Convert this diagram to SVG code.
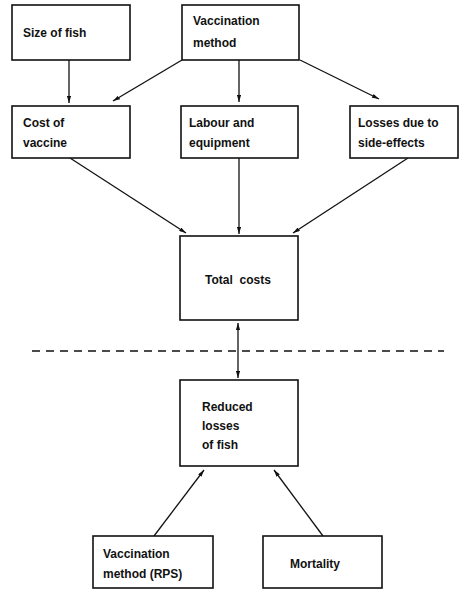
<svg xmlns="http://www.w3.org/2000/svg" width="461" height="589" viewBox="0 0 461 589">
<style>
.box{fill:#fff;stroke:#111;stroke-width:1.6}
.t{font-family:"Liberation Sans",Arial,sans-serif;font-weight:bold;font-size:12px;fill:#111}
.c{stroke:#111;stroke-width:1.3;fill:none}
</style>
<defs>
<marker id="ah" viewBox="0 0 10 6" refX="10" refY="3" markerWidth="7" markerHeight="4.2" markerUnits="userSpaceOnUse" orient="auto-start-reverse">
<path d="M0,0 L10,3 L0,6 z" fill="#111"/>
</marker>
</defs>
<rect width="461" height="589" fill="#fff"/>
<g id="connectors">
<line class="c" x1="69" y1="60" x2="69" y2="103" marker-end="url(#ah)"/>
<line class="c" x1="182" y1="60" x2="113" y2="101" marker-end="url(#ah)"/>
<line class="c" x1="239" y1="60" x2="239" y2="102" marker-end="url(#ah)"/>
<line class="c" x1="300" y1="60" x2="379" y2="99" marker-end="url(#ah)"/>
<line class="c" x1="70" y1="158" x2="186" y2="233" marker-end="url(#ah)"/>
<line class="c" x1="239" y1="158" x2="239" y2="234" marker-end="url(#ah)"/>
<line class="c" x1="408" y1="158" x2="293" y2="233" marker-end="url(#ah)"/>
<line class="c" x1="238" y1="323" x2="238" y2="378" marker-start="url(#ah)" marker-end="url(#ah)"/>
<line class="c" x1="154" y1="536" x2="204" y2="470" marker-end="url(#ah)"/>
<line class="c" x1="323" y1="536" x2="274" y2="470" marker-end="url(#ah)"/>
<line x1="32" y1="351" x2="444" y2="351" stroke="#111" stroke-width="1.3" stroke-dasharray="8 6"/>
</g>
<g id="size-of-fish">
<rect class="box" x="12" y="5" width="118" height="55"/>
<text class="t" x="23" y="37">Size of fish</text>
</g>
<g id="vaccination-method">
<rect class="box" x="182" y="5" width="117" height="55"/>
<text class="t" x="193" y="25">Vaccination</text>
<text class="t" x="193" y="47">method</text>
</g>
<g id="cost-of-vaccine">
<rect class="box" x="12" y="106" width="118" height="52"/>
<text class="t" x="23" y="127">Cost of</text>
<text class="t" x="23" y="147">vaccine</text>
</g>
<g id="labour-and-equipment">
<rect class="box" x="181" y="106" width="117" height="52"/>
<text class="t" x="189" y="127">Labour and</text>
<text class="t" x="189" y="147">equipment</text>
</g>
<g id="losses-side-effects">
<rect class="box" x="350" y="106" width="108" height="52"/>
<text class="t" x="358" y="127">Losses due to</text>
<text class="t" x="358" y="147">side-effects</text>
</g>
<g id="total-costs">
<rect class="box" x="180" y="236" width="118" height="84"/>
<text class="t" x="238" y="284" text-anchor="middle" xml:space="preserve">Total  costs</text>
</g>
<g id="reduced-losses">
<rect class="box" x="180" y="380" width="118" height="86"/>
<text class="t" x="202" y="411">Reduced</text>
<text class="t" x="202" y="430">losses</text>
<text class="t" x="202" y="449">of fish</text>
</g>
<g id="vaccination-rps">
<rect class="box" x="93" y="536" width="120" height="52"/>
<text class="t" x="103" y="558">Vaccination</text>
<text class="t" x="103" y="578">method (RPS)</text>
</g>
<g id="mortality">
<rect class="box" x="263" y="536" width="119" height="52"/>
<text class="t" x="290" y="568">Mortality</text>
</g>
</svg>
